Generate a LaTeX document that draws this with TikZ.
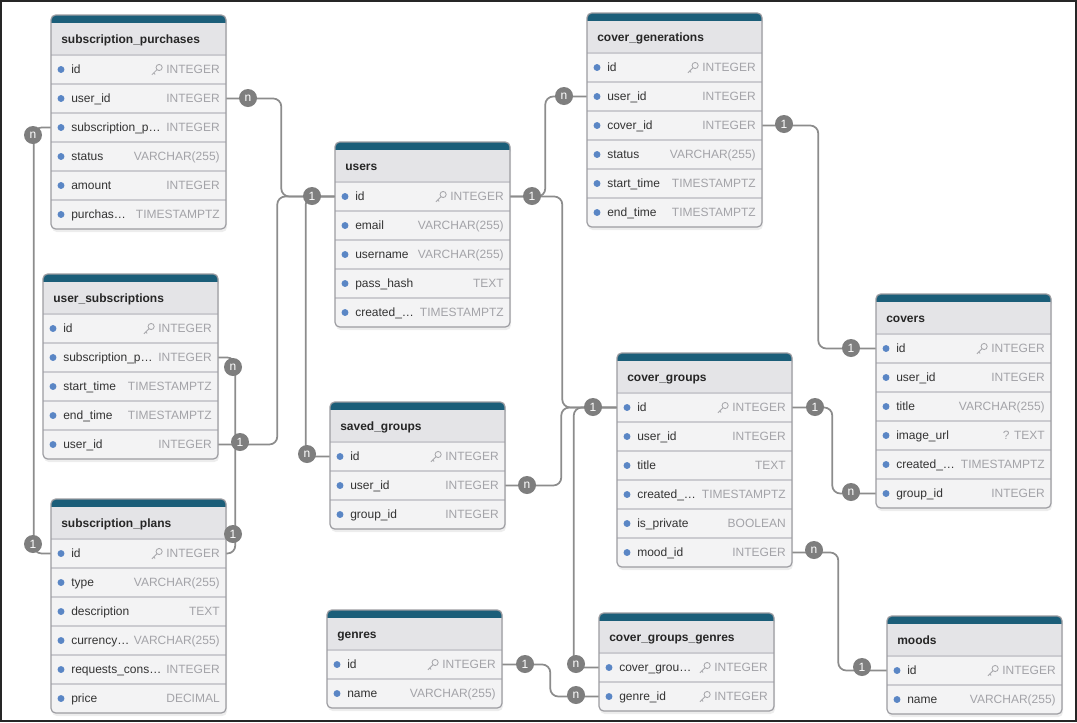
\documentclass[tikz,border=0pt]{standalone}
\usepackage{fontspec}
\setmainfont{Liberation Sans}
\usetikzlibrary{calc}

\definecolor{tealbar}{HTML}{1B5E79}
\definecolor{headfill}{HTML}{E4E4E7}
\definecolor{rowfill}{HTML}{F3F3F4}
\definecolor{sepcol}{HTML}{CBCBD0}
\definecolor{bordercol}{HTML}{9C9CA1}
\definecolor{bulletcol}{HTML}{5A86C5}
\definecolor{typecol}{HTML}{A3A3A8}
\definecolor{fieldcol}{HTML}{333333}
\definecolor{titlecol}{HTML}{262626}
\definecolor{relcol}{HTML}{8C8C8C}
\definecolor{cardcol}{HTML}{7E7E7E}
\definecolor{keycol}{HTML}{A8A8AC}

\tikzset{
  titletext/.style={font=\bfseries\fontsize{9}{11}\selectfont, text=titlecol,
    inner sep=0pt, text height=6.6pt, text depth=0pt},
  fieldtext/.style={font=\fontsize{9}{11}\selectfont, text=fieldcol,
    inner sep=0pt, text height=6.6pt, text depth=0pt},
  typetext/.style={font=\fontsize{9}{11}\selectfont, text=typecol,
    inner sep=0pt, text height=6.6pt, text depth=0pt},
  rowbox/.style={inner sep=0pt, minimum width=131.25pt, minimum height=21.75pt},
  sepline/.style={draw=sepcol, line width=0.9pt},
  tableborder/.style={draw=bordercol, line width=0.9pt, rounded corners=3.5pt},
  rel/.style={draw=relcol, line width=1.3pt, rounded corners=6pt},
  card/.style={circle, fill=cardcol, text=white, minimum size=13.5pt, inner sep=0pt,
    font=\fontsize{9}{10}\selectfont},
  keyicon/.pic={
    \draw[keycol, line width=0.65pt] (1.5pt,1.5pt) circle (2.3pt);
    \draw[keycol, line width=0.65pt] (-0.1pt,-0.1pt) -- (-3.9pt,-3.9pt);
    \draw[keycol, line width=0.65pt] (-2.6pt,-2.6pt) -- (-1.5pt,-3.7pt);
  }
}

% \erdtable{name}{left}{top}{title}{rows}{field/type/key,...}
\newcommand\erdtable[6]{%
  \pgfmathsetmacro\tbot{#3+40+29*#5}
  \fill[black, opacity=0.07, rounded corners=3.5pt] (#2+1,#3+3) rectangle (#2+176,\tbot+3);
  \fill[rowfill, rounded corners=3.5pt] (#2,#3) rectangle (#2+175,\tbot);
  \fill[tealbar, rounded corners=3.5pt] (#2,#3) rectangle (#2+175,#3+14);
  \fill[headfill] (#2,#3+8) rectangle (#2+175,#3+40);
  \node[titletext, anchor=west] (#1) at (#2+10,#3+24) {#4};
  \foreach \fname/\ftype/\fkey [count=\i] in {#6} {
    \pgfmathsetmacro\cy{#3+40+29*(\i-0.5)}
    \draw[sepline] (#2,\cy-14.5) -- (#2+175,\cy-14.5);
    \node[rowbox] (#1-\i) at (#2+87.5,\cy) {};
    \fill[bulletcol] (#2+10,\cy) circle (2.6pt);
    \node[fieldtext, anchor=west] at (#2+20,\cy) {\fname};
    \node[typetext, anchor=east] (#1-\i-t) at (#2+169,\cy) {\ftype};
    \ifnum\fkey=1 \pic at ($(#1-\i-t.west)+(-9,0)$) {keyicon}; \fi
  }
  \draw[tableborder] (#2,#3) rectangle (#2+175,\tbot);
}

\begin{document}
\begin{tikzpicture}[x=0.75pt, y=-0.75pt]
\useasboundingbox (0,0) rectangle (1077,722);
\fill[white] (0,0) rectangle (1077,722);
\draw[line width=1.2pt, color=black!85] (1,1) rectangle (1076,721);

% tables
\erdtable{spurch}{51}{15}{subscription\_purchases}{6}{id/INTEGER/1, user\_id/INTEGER/0, subscription\_p…/INTEGER/0, status/VARCHAR(255)/0, amount/INTEGER/0, purchas…/TIMESTAMPTZ/0}
\erdtable{users}{335}{142}{users}{5}{id/INTEGER/1, email/VARCHAR(255)/0, username/VARCHAR(255)/0, pass\_hash/TEXT/0, created\_…/TIMESTAMPTZ/0}
\erdtable{cgen}{587}{13}{cover\_generations}{6}{id/INTEGER/1, user\_id/INTEGER/0, cover\_id/INTEGER/0, status/VARCHAR(255)/0, start\_time/TIMESTAMPTZ/0, end\_time/TIMESTAMPTZ/0}
\erdtable{usub}{43}{274}{user\_subscriptions}{5}{id/INTEGER/1, subscription\_p…/INTEGER/0, start\_time/TIMESTAMPTZ/0, end\_time/TIMESTAMPTZ/0, user\_id/INTEGER/0}
\erdtable{splan}{51}{499}{subscription\_plans}{6}{id/INTEGER/1, type/VARCHAR(255)/0, description/TEXT/0, currency…/VARCHAR(255)/0, requests\_cons…/INTEGER/0, price/DECIMAL/0}
\erdtable{saved}{330}{402}{saved\_groups}{3}{id/INTEGER/1, user\_id/INTEGER/0, group\_id/INTEGER/0}
\erdtable{genres}{327}{610}{genres}{2}{id/INTEGER/1, name/VARCHAR(255)/0}
\erdtable{cgg}{599}{613}{cover\_groups\_genres}{2}{cover\_grou…/INTEGER/1, genre\_id/INTEGER/1}
\erdtable{cgroups}{617}{353}{cover\_groups}{6}{id/INTEGER/1, user\_id/INTEGER/0, title/TEXT/0, created\_…/TIMESTAMPTZ/0, is\_private/BOOLEAN/0, mood\_id/INTEGER/0}
\erdtable{covers}{876}{294}{covers}{6}{id/INTEGER/1, user\_id/INTEGER/0, title/VARCHAR(255)/0, image\_url/? TEXT/0, created\_…/TIMESTAMPTZ/0, group\_id/INTEGER/0}
\erdtable{moods}{887}{616}{moods}{2}{id/INTEGER/1, name/VARCHAR(255)/0}

% relationships
\draw[rel] (spurch-2.east) -- ++(55,0) |- (users-1.west);
\draw[rel] (usub-5.east) -- ++(59,0) |- (users-1.west);
\draw[rel] (users-1.west) -- ++(-29,0) |- (saved-1.west);
\draw[rel] (users-1.east) -- ++(35,0) |- (cgen-2.west);
\draw[rel] (users-1.east) -- ++(52,0) |- (cgroups-1.west);
\draw[rel] (saved-2.east) -- ++(56,0) |- (cgroups-1.west);
\draw[rel] (cgroups-1.west) -- ++(-43,0) |- (cgg-1.west);
\draw[rel] (genres-1.east) -- ++(48,0) |- (cgg-2.west);
\draw[rel] (cgroups-1.east) -- ++(40,0) |- (covers-6.west);
\draw[rel] (cgen-3.east) -- ++(56,0) |- (covers-1.west);
\draw[rel] (cgroups-6.east) -- ++(46,0) |- (moods-1.west);
\draw[rel] (spurch-3.west) -- ++(-17,0) |- (splan-1.west);
\draw[rel] (usub-2.east) -- ++(17,0) |- (splan-1.east);

% cardinality markers
\node[card] (k1)  at (248,98)  {n};
\node[card] (k2)  at (312,196) {1};
\node[card] (k3)  at (240,442) {1};
\node[card] (k4)  at (307,454) {n};
\node[card] (k5)  at (532,196) {1};
\node[card] (k6)  at (564,96)  {n};
\node[card] (k7)  at (593,407) {1};
\node[card] (k8)  at (527,485) {n};
\node[card] (k9)  at (576,664) {n};
\node[card] (k10) at (525,664) {1};
\node[card] (k11) at (576,695) {n};
\node[card] (k12) at (815,407) {1};
\node[card] (k13) at (851,492) {n};
\node[card] (k14) at (784,124) {1};
\node[card] (k15) at (851,348) {1};
\node[card] (k16) at (814,550) {n};
\node[card] (k17) at (862,667) {1};
\node[card] (k18) at (33,135)  {n};
\node[card] (k19) at (33,544)  {1};
\node[card] (k20) at (233,367) {n};
\node[card] (k21) at (233,534) {1};
\end{tikzpicture}
\end{document}
